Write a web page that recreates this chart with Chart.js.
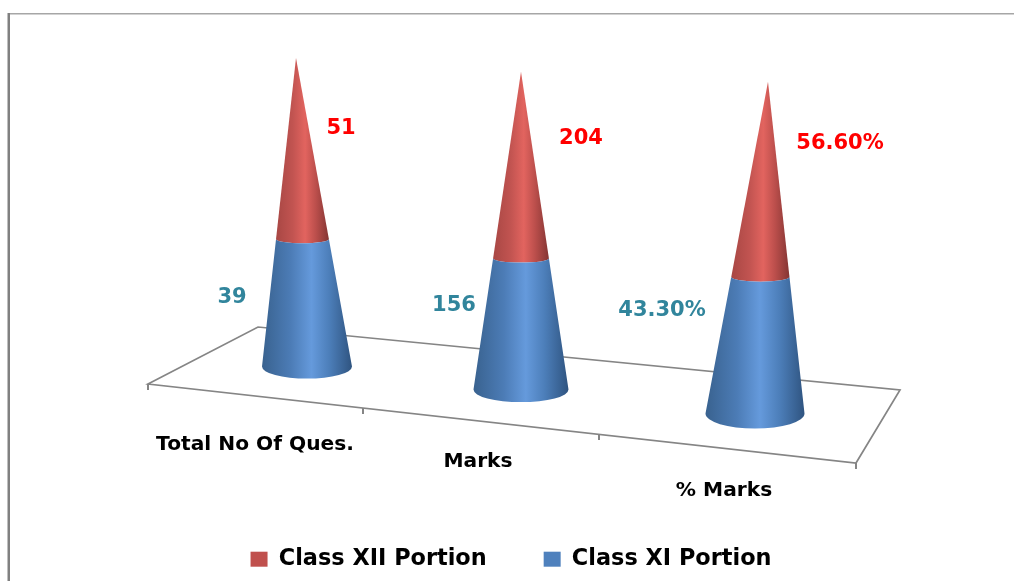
<!DOCTYPE html>
<html>
<head>
<meta charset="utf-8">
<style>html,body{margin:0;padding:0;background:#fff}canvas{display:block}</style>
<script src="https://cdn.jsdelivr.net/npm/chart.js@4"></script>
</head>
<body>
<canvas id="c" width="1014" height="581"></canvas>
<script>
const categories = ['Total No Of Ques.', 'Marks', '% Marks'];
const classXI = [39, 156, 43.3];
const classXII = [51, 204, 56.6];
const seriesXI = 'Class XI Portion';
const seriesXII = 'Class XII Portion';
const valueSuffix = ['', '', '%'];

// 3D look of the picture: where each category stands on the tilted floor.
const stage = {
  shiftX: [0, -10, 0], shiftY: [0, 23, 47], heightScale: [1, 1.03, 1.075],
  apexShift: [-11, 0, 13], halfWidth: [45, 47.5, 49.5], baseRy: [12, 12.5, 15], foreshorten: 1.09,
  floor: [[148, 384], [258, 327], [900, 390], [856, 463]],
  floorTicks: [[148, 384], [363, 408], [599, 434], [856, 463]],
  tickDx: [-52, -53, -31], tickY: [445, 462, 491],
  labelXI: [[-75, 297.5], [-77, 305.5], [-93, 310.5]],
  labelXII: [[34, 128.5], [50, 138.5], [85, 143.5]]
};
const FONT = '"DejaVu Sans", sans-serif';
const gradientStops = [0, 0.32, 0.55, 0.75, 1];
const palette = {
  XI:  ['#39628f', '#4c7cb6', '#659adc', '#4c7eb9', '#2f5480'],
  XII: ['#a84744', '#c25451', '#e2645f', '#bc4f4c', '#843533']
};

function shares(a, b) { return a.map((v, i) => v / (v + b[i])); }

function persp(v) { const w = stage.foreshorten; return v / (v + w * (1 - v)); }

function conePoint(chart, el, k, v) {
  const area = chart.chartArea;
  const t = persp(v);
  const baseY = area.bottom + stage.shiftY[k];
  const h = (area.bottom - area.top) * stage.heightScale[k];
  const baseX = el.x + stage.shiftX[k];
  return { t, cx: baseX + t * stage.apexShift[k], y: baseY - t * h, hw: stage.halfWidth[k] * (1 - t), ry: stage.baseRy[k] * (1 - t) * (t > 0 ? 0.55 : 1) };
}

const conePlugin = {
  id: 'cones',
  afterLayout(chart) {
    const lg = chart.legend;
    lg.left = 4; lg.right = 1014 + 4;
    lg.top = 491; lg.bottom = 581;
  },
  beforeDraw(chart) {
    const c = chart.ctx;
    c.save();
    c.fillStyle = '#fff'; c.fillRect(0, 0, chart.width, chart.height);
    c.fillStyle = '#a6a6a6'; c.fillRect(8, 13, 1006, 1.5);
    c.fillStyle = '#808080'; c.fillRect(7.5, 13, 2.5, 568);
    c.restore();
  },
  beforeDatasetsDraw(chart) {
    const c = chart.ctx;
    c.save();
    c.strokeStyle = '#858585'; c.lineWidth = 1.7;
    c.beginPath();
    stage.floor.forEach((p, i) => i ? c.lineTo(p[0], p[1]) : c.moveTo(p[0], p[1]));
    c.closePath(); c.stroke();
    c.beginPath();
    stage.floorTicks.forEach(p => { c.moveTo(p[0], p[1]); c.lineTo(p[0], p[1] + 6); });
    c.lineWidth = 2; c.stroke();
    c.restore();
  },
  beforeDatasetDraw(chart, args) {
    const c = chart.ctx, meta = args.meta, y = chart.scales.y;
    const colors = args.index === 0 ? palette.XI : palette.XII;
    meta.data.forEach((el, k) => {
      const a = conePoint(chart, el, k, y.getValueForPixel(el.base));
      const b = conePoint(chart, el, k, y.getValueForPixel(el.y));
      const g = c.createLinearGradient(a.cx - a.hw, 0, a.cx + a.hw, 0);
      gradientStops.forEach((s, i) => g.addColorStop(s, colors[i]));
      c.save();
      c.fillStyle = g;
      c.beginPath();
      c.moveTo(a.cx - a.hw, a.y);
      c.lineTo(b.cx - b.hw, b.y);
      if (b.t < 0.999) c.ellipse(b.cx, b.y, b.hw, b.ry, 0, Math.PI, 0, true);
      c.lineTo(a.cx + a.hw, a.y);
      c.ellipse(a.cx, a.y, a.hw, a.ry, 0, 0, Math.PI);
      c.closePath(); c.fill();
      c.restore();
    });
    return false;
  },
  afterDatasetsDraw(chart) {
    const c = chart.ctx, x = chart.scales.x;
    c.save();
    c.textAlign = 'center'; c.textBaseline = 'middle';
    c.fillStyle = '#000'; c.font = 'bold 20.2px ' + FONT;
    categories.forEach((t, k) => c.fillText(t, x.getPixelForValue(k) + stage.tickDx[k], stage.tickY[k]));
    c.font = 'bold 21px ' + FONT;
    const fmt = (v, k) => k === 2 ? v.toFixed(2) + valueSuffix[k] : String(v);
    c.fillStyle = '#31859c';
    classXI.forEach((v, k) => c.fillText(fmt(v, k), x.getPixelForValue(k) + stage.labelXI[k][0], stage.labelXI[k][1]));
    c.fillStyle = '#ff0000';
    classXII.forEach((v, k) => c.fillText(fmt(v, k), x.getPixelForValue(k) + stage.labelXII[k][0], stage.labelXII[k][1]));
    c.restore();
  }
};

new Chart(document.getElementById('c'), {
  type: 'bar',
  data: {
    labels: categories,
    datasets: [
      { label: seriesXI, data: shares(classXI, classXII), backgroundColor: '#4f81bd' },
      { label: seriesXII, data: shares(classXII, classXI), backgroundColor: '#c0504d' }
    ]
  },
  plugins: [conePlugin],
  options: {
    responsive: false,
    animation: false,
    layout: { padding: { left: 195, right: 147, top: 58, bottom: 125 } },
    scales: {
      x: { stacked: true, display: false },
      y: { stacked: true, display: false, min: 0, max: 1 }
    },
    plugins: {
      tooltip: { enabled: false },
      title: { display: false },
      legend: {
        position: 'bottom',
        reverse: true,
        labels: {
          boxWidth: 17, boxHeight: 15, padding: 57, color: '#000',
          font: { family: FONT, size: 22.4, weight: 'bold' }
        }
      }
    }
  }
});
</script>
</body>
</html>
